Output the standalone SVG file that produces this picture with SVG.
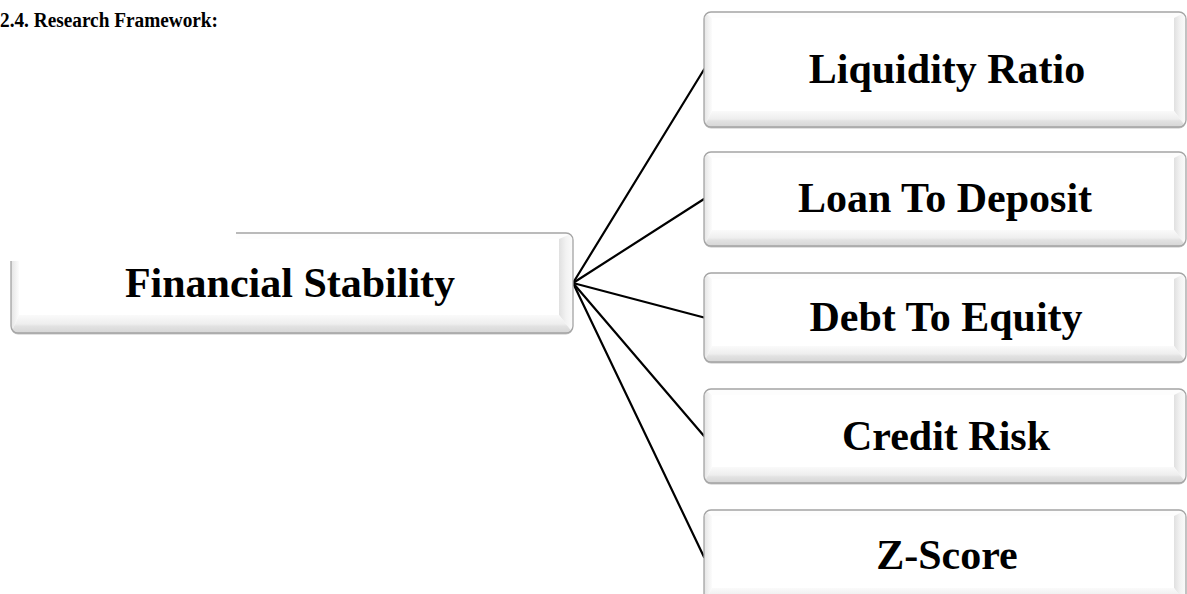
<svg xmlns="http://www.w3.org/2000/svg" width="1187" height="594" viewBox="0 0 1187 594">
  <style>
    .lbl { font-family: "Liberation Serif", "Times New Roman", serif; font-weight: bold; font-size: 42px; fill: #000; text-anchor: middle; }
    .title { font-family: "Liberation Serif", "Times New Roman", serif; font-weight: bold; font-size: 20px; fill: #000; }
    .edge { stroke: #000; stroke-width: 2.2; fill: none; stroke-linecap: round; }
    .border { fill: none; stroke: #a4a4a4; stroke-width: 1.3; }
    .shadow { fill: #c4c4c4; }
    .face { fill: #ffffff; }
    .fb { fill: url(#gBottom); }
    .fr { fill: url(#gRight); }
    .fl { fill: url(#gLeft); }
    .ft { fill: #fdfdfd; }
  </style>
  <defs>
    <linearGradient id="gBottom" x1="0" y1="0" x2="0" y2="1">
      <stop offset="0" stop-color="#fafafa"/>
      <stop offset="0.5" stop-color="#eeeeee"/>
      <stop offset="0.62" stop-color="#e2e2e2"/>
      <stop offset="1" stop-color="#d6d6d6"/>
    </linearGradient>
    <linearGradient id="gRight" x1="0" y1="0" x2="1" y2="0">
      <stop offset="0" stop-color="#e0e0e0"/>
      <stop offset="0.5" stop-color="#f2f2f2"/>
      <stop offset="1" stop-color="#fbfbfb"/>
    </linearGradient>
    <linearGradient id="gLeft" x1="0" y1="0" x2="1" y2="0">
      <stop offset="0" stop-color="#e4e4e4"/>
      <stop offset="1" stop-color="#fcfcfc"/>
    </linearGradient>
    <clipPath id="c0"><rect x="11" y="233" width="562" height="100" rx="7"/></clipPath>
    <clipPath id="c1"><rect x="704" y="12" width="482" height="115" rx="7"/></clipPath>
    <clipPath id="c2"><rect x="704" y="152" width="482" height="94" rx="7"/></clipPath>
    <clipPath id="c3"><rect x="704" y="273" width="482" height="89" rx="7"/></clipPath>
    <clipPath id="c4"><rect x="704" y="389" width="482" height="94" rx="7"/></clipPath>
    <clipPath id="c5"><rect x="704" y="510" width="482" height="94" rx="7"/></clipPath>
  </defs>

  <rect width="1187" height="594" fill="#ffffff"/>

  <text class="title" x="0" y="27" textLength="218" lengthAdjust="spacingAndGlyphs">2.4. Research Framework:</text>

  <g id="connectors">
    <line class="edge" x1="573" y1="283" x2="704" y2="69.5"/>
    <line class="edge" x1="573" y1="283" x2="704" y2="199"/>
    <line class="edge" x1="573" y1="283" x2="704" y2="317.5"/>
    <line class="edge" x1="573" y1="283" x2="704" y2="436"/>
    <line class="edge" x1="573" y1="283" x2="704" y2="557"/>
  </g>

  <g id="node-financial-stability">
    <rect class="shadow" x="11" y="234.5" width="562" height="100" rx="7"/>
    <g clip-path="url(#c0)">
      <rect class="face" x="11" y="233" width="562" height="100"/>
      <polygon class="ft" points="11,233 573,233 559,239 19,239"/>
      <polygon class="fl" points="11,233 19,239 19,315 11,333"/>
      <polygon class="fr" points="573,233 573,333 559,315 559,239"/>
      <polygon class="fb" points="11,333 573,333 559,315 19,315"/>
    </g>
    <rect class="border" x="11" y="233" width="562" height="100" rx="7"/>
    <rect x="0" y="224" width="236" height="37" fill="#ffffff"/>
    <text class="lbl" x="290" y="297">Financial Stability</text>
  </g>

  <g id="node-liquidity-ratio">
    <rect class="shadow" x="704" y="13.5" width="482" height="115" rx="7"/>
    <g clip-path="url(#c1)">
      <rect class="face" x="704" y="12" width="482" height="115"/>
      <polygon class="ft" points="704,12 1186,12 1174,18 712,18"/>
      <polygon class="fl" points="704,12 712,18 712,111 704,127"/>
      <polygon class="fr" points="1186,12 1186,127 1174,111 1174,18"/>
      <polygon class="fb" points="704,127 1186,127 1174,111 712,111"/>
    </g>
    <rect class="border" x="704" y="12" width="482" height="115" rx="7"/>
    <text class="lbl" x="947" y="83">Liquidity Ratio</text>
  </g>

  <g id="node-loan-to-deposit">
    <rect class="shadow" x="704" y="153.5" width="482" height="94" rx="7"/>
    <g clip-path="url(#c2)">
      <rect class="face" x="704" y="152" width="482" height="94"/>
      <polygon class="ft" points="704,152 1186,152 1174,158 712,158"/>
      <polygon class="fl" points="704,152 712,158 712,230 704,246"/>
      <polygon class="fr" points="1186,152 1186,246 1174,230 1174,158"/>
      <polygon class="fb" points="704,246 1186,246 1174,230 712,230"/>
    </g>
    <rect class="border" x="704" y="152" width="482" height="94" rx="7"/>
    <text class="lbl" x="945" y="212">Loan To Deposit</text>
  </g>

  <g id="node-debt-to-equity">
    <rect class="shadow" x="704" y="274.5" width="482" height="89" rx="7"/>
    <g clip-path="url(#c3)">
      <rect class="face" x="704" y="273" width="482" height="89"/>
      <polygon class="ft" points="704,273 1186,273 1174,279 712,279"/>
      <polygon class="fl" points="704,273 712,279 712,346 704,362"/>
      <polygon class="fr" points="1186,273 1186,362 1174,346 1174,279"/>
      <polygon class="fb" points="704,362 1186,362 1174,346 712,346"/>
    </g>
    <rect class="border" x="704" y="273" width="482" height="89" rx="7"/>
    <text class="lbl" x="946" y="331">Debt To Equity</text>
  </g>

  <g id="node-credit-risk">
    <rect class="shadow" x="704" y="390.5" width="482" height="94" rx="7"/>
    <g clip-path="url(#c4)">
      <rect class="face" x="704" y="389" width="482" height="94"/>
      <polygon class="ft" points="704,389 1186,389 1174,395 712,395"/>
      <polygon class="fl" points="704,389 712,395 712,467 704,483"/>
      <polygon class="fr" points="1186,389 1186,483 1174,467 1174,395"/>
      <polygon class="fb" points="704,483 1186,483 1174,467 712,467"/>
    </g>
    <rect class="border" x="704" y="389" width="482" height="94" rx="7"/>
    <text class="lbl" x="946" y="450">Credit Risk</text>
  </g>

  <g id="node-z-score">
    <rect class="shadow" x="704" y="511.5" width="482" height="94" rx="7"/>
    <g clip-path="url(#c5)">
      <rect class="face" x="704" y="510" width="482" height="94"/>
      <polygon class="ft" points="704,510 1186,510 1174,516 712,516"/>
      <polygon class="fl" points="704,510 712,516 712,588 704,604"/>
      <polygon class="fr" points="1186,510 1186,604 1174,588 1174,516"/>
      <polygon class="fb" points="704,604 1186,604 1174,588 712,588"/>
    </g>
    <rect class="border" x="704" y="510" width="482" height="94" rx="7"/>
    <text class="lbl" x="947" y="569">Z-Score</text>
  </g>
</svg>
